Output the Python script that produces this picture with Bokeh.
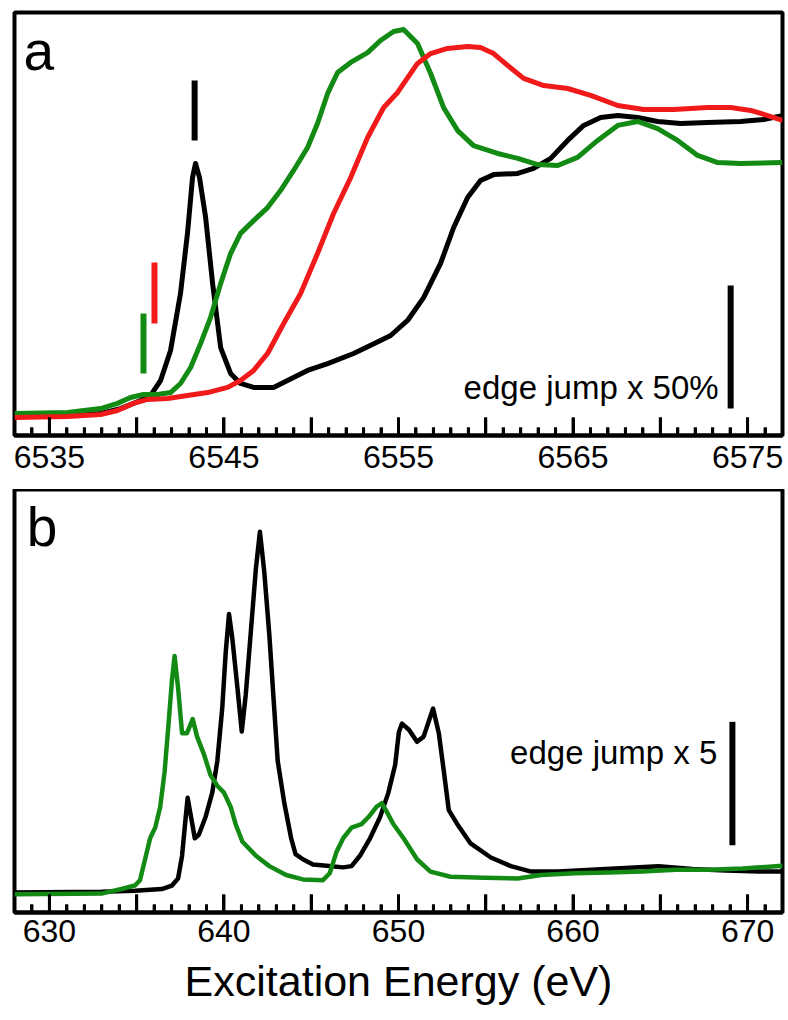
from bokeh.plotting import figure
from bokeh.layouts import column
from bokeh.models import Range1d, Label, FixedTicker
from bokeh.embed import file_html
from bokeh.resources import INLINE

FONT = "Liberation Sans"
GREEN = "#138a13"
RED = "#f01a1a"
BLACK = "#000000"

# ---------------- panel a : K-edge XANES (normalised absorption) ----------------
a_black_E = [6533.0, 6537.93, 6539.07, 6540.22, 6540.79, 6541.37, 6541.94, 6542.51, 6542.91, 6543.20,
             6543.37, 6543.60, 6543.95, 6544.35, 6544.81, 6545.38, 6545.95, 6546.70, 6547.84, 6548.64,
             6549.79, 6550.94, 6552.43, 6553.97, 6554.55, 6555.52, 6556.44, 6557.41, 6558.16, 6558.96,
             6559.70, 6560.45, 6561.83, 6562.74, 6563.72, 6564.69, 6565.61, 6566.58, 6567.56, 6568.70,
             6569.85, 6571.17, 6572.71, 6574.60, 6575.92, 6577.0]
a_black_mu = [-0.012, -0.004, 0.016, 0.049, 0.069, 0.130, 0.252, 0.484, 0.728, 0.955,
              1.012, 0.955, 0.793, 0.524, 0.264, 0.159, 0.118, 0.102, 0.102, 0.130,
              0.171, 0.199, 0.240, 0.293, 0.313, 0.374, 0.467, 0.606, 0.752, 0.874,
              0.943, 0.967, 0.972, 0.992, 1.033, 1.106, 1.167, 1.199, 1.207, 1.199,
              1.183, 1.175, 1.179, 1.183, 1.191, 1.207]

a_green_E = [6533.0, 6536.04, 6537.93, 6538.90, 6539.65, 6540.39, 6541.19, 6541.94, 6542.51, 6543.09,
             6543.66, 6544.23, 6544.81, 6545.38, 6545.95, 6546.70, 6547.50, 6548.24, 6548.99, 6549.79,
             6550.36, 6550.94, 6551.51, 6552.26, 6553.23, 6553.97, 6554.72, 6555.29, 6556.09, 6556.84,
             6557.58, 6558.39, 6559.30, 6560.68, 6561.83, 6562.97, 6564.12, 6565.26, 6566.41, 6567.56,
             6568.70, 6569.85, 6570.99, 6572.14, 6573.29, 6574.60, 6577.0]
a_green_mu = [-0.004, 0.0, 0.016, 0.037, 0.061, 0.073, 0.073, 0.081, 0.118, 0.183,
              0.280, 0.386, 0.524, 0.646, 0.728, 0.780, 0.833, 0.902, 0.984, 1.077,
              1.175, 1.297, 1.382, 1.423, 1.463, 1.512, 1.549, 1.557, 1.500, 1.378,
              1.240, 1.146, 1.085, 1.053, 1.033, 1.008, 1.004, 1.037, 1.106, 1.167,
              1.183, 1.154, 1.106, 1.045, 1.016, 1.012, 1.016]

a_red_E = [6533.0, 6536.04, 6537.93, 6538.90, 6539.82, 6540.62, 6541.77, 6542.91, 6544.06, 6545.21,
           6545.95, 6546.70, 6547.50, 6548.42, 6549.39, 6550.36, 6551.28, 6552.26, 6553.23, 6554.15,
           6554.95, 6555.29, 6556.09, 6556.84, 6557.81, 6558.96, 6559.70, 6560.45, 6561.25, 6562.17,
           6563.32, 6564.69, 6566.01, 6567.56, 6569.05, 6570.77, 6572.71, 6574.03, 6575.18, 6576.15,
           6577.0]
a_red_mu = [-0.020, -0.016, -0.008, 0.008, 0.037, 0.053, 0.057, 0.069, 0.081, 0.102,
            0.130, 0.171, 0.240, 0.362, 0.484, 0.646, 0.809, 0.955, 1.118, 1.240,
            1.301, 1.337, 1.419, 1.459, 1.480, 1.488, 1.484, 1.459, 1.411, 1.358,
            1.329, 1.317, 1.289, 1.248, 1.232, 1.232, 1.240, 1.240, 1.228, 1.207,
            1.187]

# pre-edge markers (energy, bottom, top, colour)
mark_E = [6543.32, 6541.02, 6540.39]
mark_y0 = [1.106, 0.362, 0.159]
mark_y1 = [1.350, 0.610, 0.402]
mark_col = [BLACK, RED, GREEN]

a_scale_E = 6574.03
a_scale_y = [0.016, 0.516]          # 50 % of the edge jump

a_major = [6535, 6540, 6545, 6550, 6555, 6560, 6565, 6570, 6575]
a_labels = [6535, 6545, 6555, 6565, 6575]
a_minor = [e for e in range(6533, 6578) if e % 5 != 0]

# ---------------- panel b : L-edge (edge jump units) ----------------
b_black_E = [628.0, 632.98, 634.90, 636.44, 637.02, 637.37, 637.60, 637.79, 637.92, 638.08,
             638.33, 638.56, 638.94, 639.33, 639.62, 639.90, 640.10, 640.29, 640.48, 640.77,
             641.02, 641.25, 641.54, 641.83, 642.06, 642.31, 642.60, 642.88, 643.08, 643.46,
             643.85, 644.10, 644.52, 645.10, 645.87, 646.83, 647.31, 647.79, 648.37, 648.94,
             649.42, 649.81, 650.02, 650.20, 650.60, 651.06, 651.44, 651.98, 652.31, 652.60,
             652.88, 653.37, 654.13, 655.29, 656.44, 657.60, 659.13, 661.06, 662.98, 664.90,
             666.83, 668.75, 670.67, 672.0]
b_black_mu = [0.0, 0.028, 0.071, 0.142, 0.284, 0.568, 1.49, 2.91, 3.84, 3.20,
              2.20, 2.34, 3.05, 4.05, 5.33, 7.46, 9.73, 11.29, 10.30, 8.31,
              6.53, 8.03, 10.58, 13.14, 14.63, 13.00, 10.44, 7.46, 5.33, 3.62,
              2.20, 1.56, 1.35, 1.14, 1.09, 1.02, 1.07, 1.49, 2.20, 3.05,
              4.05, 5.18, 6.50, 6.85, 6.60, 6.11, 6.32, 7.46, 6.46, 4.90,
              3.34, 2.77, 1.99, 1.42, 1.07, 0.85, 0.85, 0.92, 0.99, 1.07,
              0.95, 0.89, 0.85, 0.85]

b_green_E = [628.0, 632.98, 634.13, 634.90, 635.19, 635.48, 635.77, 636.06, 636.35, 636.60,
             636.83, 637.02, 637.17, 637.37, 637.60, 637.88, 638.21, 638.46, 638.85, 639.23,
             639.62, 640.0, 640.38, 640.67, 641.06, 641.83, 642.60, 643.56, 644.52, 645.67,
             646.06, 646.44, 646.83, 647.31, 647.88, 648.27, 648.75, 649.04, 649.33, 649.71,
             650.29, 651.06, 651.83, 652.98, 654.90, 656.83, 658.17, 660.10, 662.02, 663.94,
             665.87, 667.79, 669.71, 672.0]
b_green_mu = [-0.071, -0.043, 0.142, 0.284, 0.497, 1.35, 2.20, 2.63, 3.48, 4.90,
              6.89, 8.59, 9.59, 8.31, 6.46, 6.46, 7.03, 6.32, 5.61, 4.76,
              4.33, 4.05, 3.48, 2.77, 2.06, 1.49, 1.07, 0.71, 0.53, 0.50,
              0.78, 1.63, 2.20, 2.63, 2.77, 3.05, 3.48, 3.62, 3.27, 2.77,
              2.2, 1.35, 0.85, 0.64, 0.60, 0.57, 0.71, 0.78, 0.81, 0.85,
              0.92, 0.92, 0.97, 1.09]

b_scale_E = 669.13
b_scale_y = [1.92, 6.92]            # 5 x edge jump

b_major = [630, 635, 640, 645, 650, 655, 660, 665, 670]
b_labels = [630, 640, 650, 660, 670]
b_minor = [e for e in range(628, 673) if e % 5 != 0]

x_title = "Excitation Energy (eV)"

FRAME_W, FRAME_H = 768, 423
MAJOR_LEN_PX, MINOR_LEN_PX = 18, 8


def make_panel(xr, yr, border_top, border_bottom, major, labels, minor, standoff):
    p = figure(frame_width=FRAME_W, frame_height=FRAME_H, x_range=Range1d(*xr), y_range=Range1d(*yr),
               output_backend="svg", toolbar_location=None, y_axis_location=None,
               min_border_left=14, min_border_right=4, min_border_top=border_top,
               min_border_bottom=border_bottom, background_fill_color="white",
               border_fill_color="white")
    p.xgrid.visible = False
    p.ygrid.visible = False
    p.outline_line_color = "black"
    p.outline_line_width = 4
    p.outline_line_alpha = 1.0
    ax = p.xaxis[0]
    ax.ticker = FixedTicker(ticks=major, minor_ticks=minor)
    ax.major_label_overrides = {t: ("" if t not in labels else str(t)) for t in major}
    ax.axis_line_width = 4
    ax.axis_line_color = "black"
    ax.major_tick_in = MAJOR_LEN_PX
    ax.major_tick_out = 0
    ax.minor_tick_in = MINOR_LEN_PX
    ax.minor_tick_out = 0
    ax.major_tick_line_width = 3
    ax.minor_tick_line_width = 3
    ax.major_label_text_font = FONT
    ax.major_label_text_font_size = "32px"
    ax.major_label_text_color = "black"
    ax.major_label_standoff = standoff
    # inward tick marks drawn inside the frame from the tick lists
    unit = (yr[1] - yr[0]) / FRAME_H
    base = yr[0] + 1.0 * unit
    r1 = p.segment(x0=major, x1=major, y0=[base] * len(major),
                   y1=[yr[0] + MAJOR_LEN_PX * unit] * len(major), line_color="black", line_width=3)
    r2 = p.segment(x0=minor, x1=minor, y0=[base] * len(minor),
                   y1=[yr[0] + MINOR_LEN_PX * unit] * len(minor), line_color="black", line_width=3)
    r1.level = "overlay"
    r2.level = "overlay"
    return p


# ---- panel a ----
pa = make_panel((6533, 6577), (-0.0935, 1.626), 12, 54, a_major, a_labels, a_minor, 10)
pa.line(a_black_E, a_black_mu, line_color=BLACK, line_width=5, line_join="round")
pa.line(a_green_E, a_green_mu, line_color=GREEN, line_width=5, line_join="round")
pa.line(a_red_E, a_red_mu, line_color=RED, line_width=5, line_join="round")
pa.segment(x0=mark_E, y0=mark_y0, x1=mark_E, y1=mark_y1, line_color=mark_col, line_width=6)
pa.segment(x0=[a_scale_E], y0=[a_scale_y[0]], x1=[a_scale_E], y1=[a_scale_y[1]],
           line_color=BLACK, line_width=6)
pa.add_layout(Label(x=6573.34, y=0.100, text="edge jump x 50%", text_align="right",
                    text_baseline="alphabetic", text_font=FONT, text_font_size="33px",
                    text_color="black"))
pa.add_layout(Label(x=6533.52, y=1.471, text="a", text_align="left",
                    text_baseline="alphabetic", text_font=FONT, text_font_size="55px",
                    text_color="black"))

# ---- panel b ----
pb = make_panel((628, 672), (-0.81, 16.34), 0, 104, b_major, b_labels, b_minor, 7)
pb.line(b_black_E, b_black_mu, line_color=BLACK, line_width=4.5, line_join="round")
pb.line(b_green_E, b_green_mu, line_color=GREEN, line_width=4.5, line_join="round")
pb.segment(x0=[b_scale_E], y0=[b_scale_y[0]], x1=[b_scale_E], y1=[b_scale_y[1]],
           line_color=BLACK, line_width=6)
pb.add_layout(Label(x=668.27, y=5.69, text="edge jump x 5", text_align="right",
                    text_baseline="alphabetic", text_font=FONT, text_font_size="33px",
                    text_color="black"))
pb.add_layout(Label(x=628.7, y=14.80, text="b", text_align="left",
                    text_baseline="alphabetic", text_font=FONT, text_font_size="55px",
                    text_color="black"))
pb.xaxis[0].axis_label = x_title
pb.xaxis[0].axis_label_text_font = FONT
pb.xaxis[0].axis_label_text_font_size = "43px"
pb.xaxis[0].axis_label_text_font_style = "normal"
pb.xaxis[0].axis_label_text_color = "black"
pb.xaxis[0].axis_label_standoff = 12

layout = column(pa, pb, spacing=0)
open("out.html", "w").write(file_html(layout, INLINE))
